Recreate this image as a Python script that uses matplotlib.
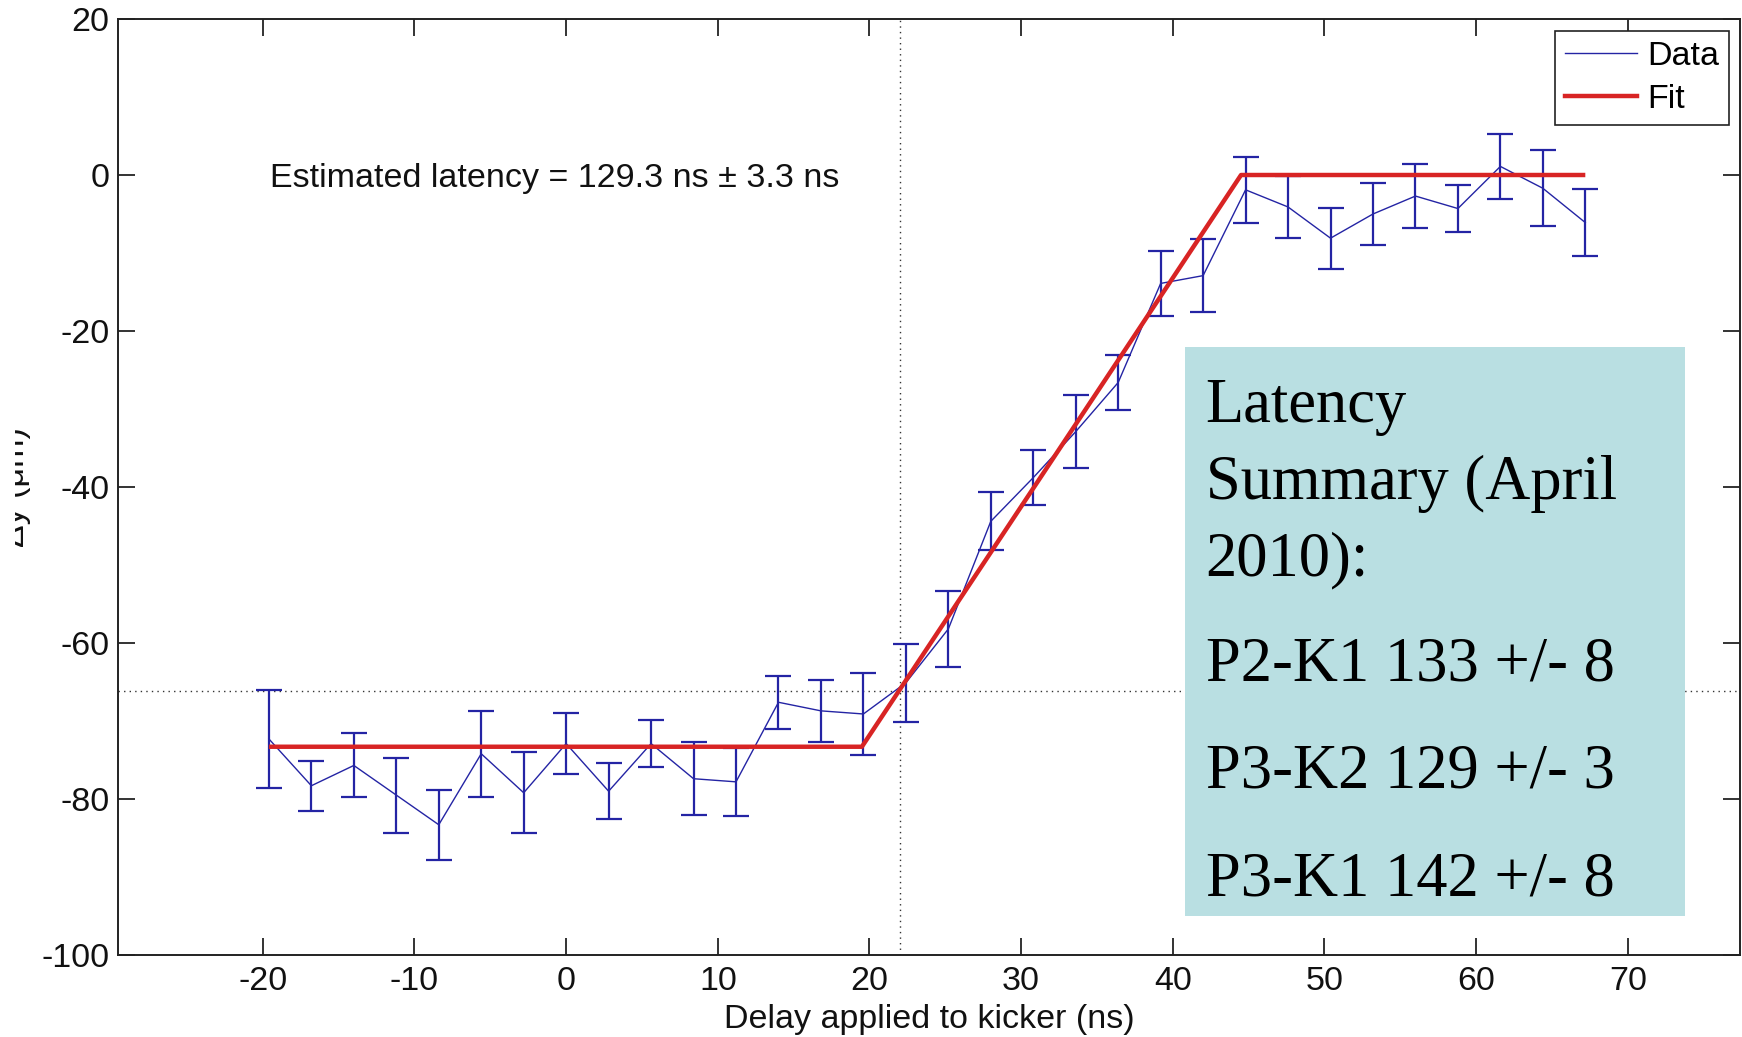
import matplotlib
matplotlib.use("Agg")
import matplotlib.pyplot as plt
from matplotlib.patches import Rectangle
from matplotlib.lines import Line2D

# ---------------- data ----------------
delay_ns = [-19.6, -16.8, -14.0, -11.2, -8.4, -5.6, -2.8, 0.0, 2.8, 5.6, 8.4,
            11.2, 14.0, 16.8, 19.6, 22.4, 25.2, 28.0, 30.8, 33.6, 36.4, 39.2,
            42.0, 44.8, 47.6, 50.4, 53.2, 56.0, 58.8, 61.6, 64.4, 67.2]
dy_um = [-72.3, -78.3, -75.7, -79.5, -83.3, -74.2, -79.2, -72.9, -79.0, -72.9,
         -77.4, -77.8, -67.6, -68.7, -69.1, -65.1, -58.2, -44.4, -38.8, -32.9,
         -26.6, -13.9, -12.9, -1.9, -4.1, -8.1, -5.0, -2.7, -4.3, 1.1, -1.7, -6.1]
dy_err = [6.3, 3.2, 4.1, 4.8, 4.5, 5.5, 5.2, 3.9, 3.6, 3.0,
          4.7, 4.4, 3.4, 4.0, 5.2, 5.0, 4.9, 3.7, 3.5, 4.7,
          3.5, 4.2, 4.7, 4.2, 4.0, 3.9, 4.0, 4.1, 3.0, 4.2, 4.9, 4.3]

fit_x = [-19.6, 19.5, 44.5, 67.2]
fit_y = [-73.3, -73.3, 0.0, 0.0]

latency_x = 22.0
latency_y = -66.1

xticks = [-20, -10, 0, 10, 20, 30, 40, 50, 60, 70]
yticks = [-100, -80, -60, -40, -20, 0, 20]

annotation_text = "Estimated latency = 129.3 ns \u00b1 3.3 ns"
summary_lines = ["Latency", "Summary (April", "2010):",
                 "P2-K1 133 +/- 8", "P3-K2 129 +/- 3", "P3-K1 142 +/- 8"]

# ---------------- style ----------------
plt.rcParams['font.family'] = ['Liberation Sans', 'DejaVu Sans']
plt.rcParams['axes.unicode_minus'] = False

W, H = 1742, 1037
fig = plt.figure(figsize=(W / 100, H / 100), dpi=100)

ax = fig.add_axes([118 / W, 1 - 955 / H, (1740 - 118) / W, (955 - 19) / H])

blue = '#2424a4'
red = '#d82424'

ax.errorbar(delay_ns, dy_um, yerr=dy_err, fmt='none', ecolor=blue,
            elinewidth=1.6, capsize=9.5, capthick=1.6, zorder=2)
ax.plot(delay_ns, dy_um, color=blue, lw=1.0, zorder=3)
ax.plot(fit_x, fit_y, color=red, lw=3.2, zorder=4, solid_capstyle='butt')

ax.axvline(latency_x, color='#333333', lw=1.0, ls=(0, (1, 3)), zorder=1)
ax.axhline(latency_y, color='#333333', lw=1.0, ls=(0, (1, 3)), zorder=1)

ax.set_xlim(-29.55, 77.4)
ax.set_ylim(-100, 20)
ax.set_xticks(xticks)
ax.set_yticks(yticks)
ax.tick_params(direction='in', length=12, width=1.2, top=True, right=True,
               labelsize=24.5, colors='#111111')
ax.tick_params(axis='x', pad=8)
ax.tick_params(axis='y', pad=6)
for s in ax.spines.values():
    s.set_linewidth(1.4)
    s.set_color('#222222')

ax.set_xlabel("Delay applied to kicker (ns)", fontsize=24.5, labelpad=5,
              color='#111111')
ax.set_ylabel("\u0394y (\u03bcm)", fontsize=24.5, color='#111111')
ax.yaxis.set_label_coords(-0.0536, 0.5)

ax.text(-19.5, -1.6, annotation_text, fontsize=24.5, ha='left',
        va='baseline', color='#111111')

handles = [Line2D([], [], color=blue, lw=1.0), Line2D([], [], color=red, lw=3.2)]
leg = ax.legend(handles, ["Data", "Fit"], loc='upper right',
                bbox_to_anchor=(0.9932, 0.9872), borderaxespad=0,
                fontsize=24.5, handlelength=2.1, handletextpad=0.3,
                labelspacing=0.35, borderpad=0.3, fancybox=False,
                framealpha=1, edgecolor='#222222')
leg.get_frame().set_linewidth(1.2)

# left edge of the original image hides part of the y label
mask = Rectangle((0, 0), 15 / W, 1, transform=fig.transFigure,
                 facecolor='white', edgecolor='none', zorder=10)
fig.add_artist(mask)

# summary box (slide overlay)
box = Rectangle((1185 / W, 1 - 916 / H), 500 / W, 569 / H,
                transform=fig.transFigure, facecolor='#b9dfe2',
                edgecolor='none', zorder=5)
fig.add_artist(box)
baselines = [422, 498.6, 575, 680.6, 788, 895]
for line, b in zip(summary_lines, baselines):
    fig.text(1205.5 / W, 1 - b / H, line, fontsize=45,
             family=['Liberation Serif', 'DejaVu Serif'],
             ha='left', va='baseline', color='#000000', zorder=6)

fig.savefig("out.png", dpi=100)
